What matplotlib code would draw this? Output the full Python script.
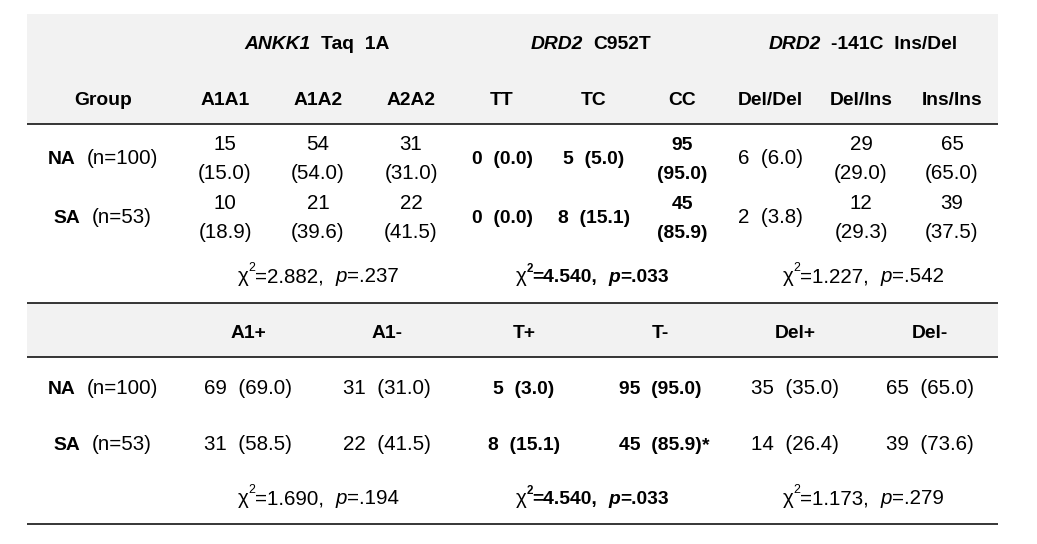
import matplotlib
matplotlib.use("Agg")
import matplotlib.pyplot as plt
from matplotlib.patches import Rectangle

# ---------------- data ----------------
genes = ["ANKK1", "DRD2", "DRD2"]
variants = ["Taq  1A", "C952T", "-141C  Ins/Del"]
genotypes = ["A1A1", "A1A2", "A2A2", "TT", "TC", "CC", "Del/Del", "Del/Ins", "Ins/Ins"]
groups = ["NA", "SA"]
group_n = [100, 53]

geno_na_counts = [15, 54, 31, 0, 5, 95, 6, 29, 65]
geno_na_pct = [15.0, 54.0, 31.0, 0.0, 5.0, 95.0, 6.0, 29.0, 65.0]
geno_sa_counts = [10, 21, 22, 0, 8, 45, 2, 12, 39]
geno_sa_pct = [18.9, 39.6, 41.5, 0.0, 15.1, 85.9, 3.8, 29.3, 37.5]
geno_chi = ["2.882", "4.540", "1.227"]
geno_p = [".237", ".033", ".542"]

carriers = ["A1+", "A1-", "T+", "T-", "Del+", "Del-"]
carr_na_counts = [69, 31, 5, 95, 35, 65]
carr_na_pct = [69.0, 31.0, 3.0, 95.0, 35.0, 65.0]
carr_sa_counts = [31, 22, 8, 45, 14, 39]
carr_sa_pct = [58.5, 41.5, 15.1, 85.9, 26.4, 73.6]
carr_chi = ["1.690", "4.540", "1.173"]
carr_p = [".194", ".033", ".279"]

significant_gene = [False, True, False]
carr_star_sa = [False, False, False, True, False, False]

# ---------------- layout / style ----------------
FONT = "Liberation Sans"
FS_REG = 14.8                   # pt, regular text
FS_BOLD = 13.9                  # pt, bold text
DPI = 100
CAP = 0.716 * 14.3 * DPI / 72.0
GRAY = "#f2f2f2"

X0, X1 = 27, 998
group_x = 103
gene_x = [317, 591, 863]
geno_x = [225, 318, 411, 502, 594, 682, 770, 861, 952]
geno_single = [False, False, False, True, True, False, True, False, False]
carr_x = [248, 387, 524, 660, 795, 930]
chi_x = [318, 592, 863]

fig = plt.figure(figsize=(10.37, 5.44), dpi=DPI)
ax = fig.add_axes([0, 0, 1, 1])
ax.set_xlim(0, 1037)
ax.set_ylim(544, 0)
ax.axis("off")
renderer = fig.canvas.get_renderer()


def draw_runs(xc, yc, runs, tail=None):
    """runs: list of (text, weight, style, sup). Centered at xc, cap-centered at yc."""
    items = []
    total = 0.0
    for t, w, s, sup in runs:
        base_fs = FS_BOLD if w == "bold" else FS_REG
        fs = base_fs * 0.6 if sup else base_fs
        core = t.strip(" ")
        lead = len(t) - len(t.lstrip(" "))
        trail = len(t) - len(t.rstrip(" "))
        sp = 0.278 * fs * DPI / 72.0
        tx = ax.text(0, 0, core, fontsize=fs, fontweight=w, fontstyle=s,
                     family=FONT, ha="left", va="baseline", color="black")
        wd = tx.get_window_extent(renderer).width if core else 0.0
        items.append((tx, lead * sp, wd, trail * sp, sup, base_fs))
        total += lead * sp + wd + trail * sp
    x = xc - total / 2.0
    base = yc + CAP / 2.0
    for tx, lsp, wd, tsp, sup, bfs in items:
        x += lsp
        yy = base - (0.52 * bfs * DPI / 72.0 if sup else 0)
        tx.set_position((x, yy))
        x += wd + tsp
    if tail is not None:
        t, w, s = tail
        fs = FS_BOLD if w == "bold" else FS_REG
        ax.text(x + 1, base, t, fontsize=fs, fontweight=w, fontstyle=s,
                family=FONT, ha="left", va="baseline", color="black")


def chi_runs(chi, p, bold):
    w = "bold" if bold else "normal"
    return [("\u03c7", "normal", "normal", False),
            ("2", w, "normal", True),
            ("=" + chi + ",  ", w, "normal", False),
            ("p", w, "italic", False),
            ("=" + p, w, "normal", False)]


# backgrounds and rules
ax.add_patch(Rectangle((X0, 14), X1 - X0, 110, facecolor=GRAY, edgecolor="none"))
ax.add_patch(Rectangle((X0, 303), X1 - X0, 54, facecolor=GRAY, edgecolor="none"))
for yl in [124, 303, 357, 524]:
    ax.plot([X0, X1], [yl, yl], color="black", lw=1.1, solid_capstyle="butt")

# ---------------- top section ----------------
for g, v, x in zip(genes, variants, gene_x):
    draw_runs(x, 42, [(g, "bold", "italic", False), ("  " + v, "bold", "normal", False)])

draw_runs(group_x, 98, [("Group", "bold", "normal", False)])
for lab, x in zip(genotypes, geno_x):
    draw_runs(x, 98, [(lab, "bold", "normal", False)])

row_y_top = [157, 216]
row_counts = [geno_na_counts, geno_sa_counts]
row_pcts = [geno_na_pct, geno_sa_pct]
for gi, (grp, n, yc) in enumerate(zip(groups, group_n, row_y_top)):
    draw_runs(group_x, yc, [(grp, "bold", "normal", False), ("  (n=%d)" % n, "normal", "normal", False)])
    for ci in range(len(genotypes)):
        w = "bold" if significant_gene[ci // 3] else "normal"
        c = row_counts[gi][ci]
        pc = "(%.1f)" % row_pcts[gi][ci]
        if geno_single[ci]:
            draw_runs(geno_x[ci], yc, [("%d  %s" % (c, pc), w, "normal", False)])
        else:
            draw_runs(geno_x[ci], yc - 14.5, [("%d" % c, w, "normal", False)])
            draw_runs(geno_x[ci], yc + 14.5, [(pc, w, "normal", False)])

for k in range(3):
    draw_runs(chi_x[k], 275, chi_runs(geno_chi[k], geno_p[k], significant_gene[k]))

# ---------------- bottom section ----------------
for lab, x in zip(carriers, carr_x):
    draw_runs(x, 331, [(lab, "bold", "normal", False)])

row_y_bot = [387, 443]
c_counts = [carr_na_counts, carr_sa_counts]
c_pcts = [carr_na_pct, carr_sa_pct]
for gi, (grp, n, yc) in enumerate(zip(groups, group_n, row_y_bot)):
    draw_runs(group_x, yc, [(grp, "bold", "normal", False), ("  (n=%d)" % n, "normal", "normal", False)])
    for ci in range(len(carriers)):
        w = "bold" if significant_gene[ci // 2] else "normal"
        txt = "%d  (%.1f)" % (c_counts[gi][ci], c_pcts[gi][ci])
        tail = ("*", w, "normal") if (gi == 1 and carr_star_sa[ci]) else None
        draw_runs(carr_x[ci], yc, [(txt, w, "normal", False)], tail=tail)

for k in range(3):
    draw_runs(chi_x[k], 497, chi_runs(carr_chi[k], carr_p[k], significant_gene[k]))

fig.savefig("out.png", dpi=DPI)
